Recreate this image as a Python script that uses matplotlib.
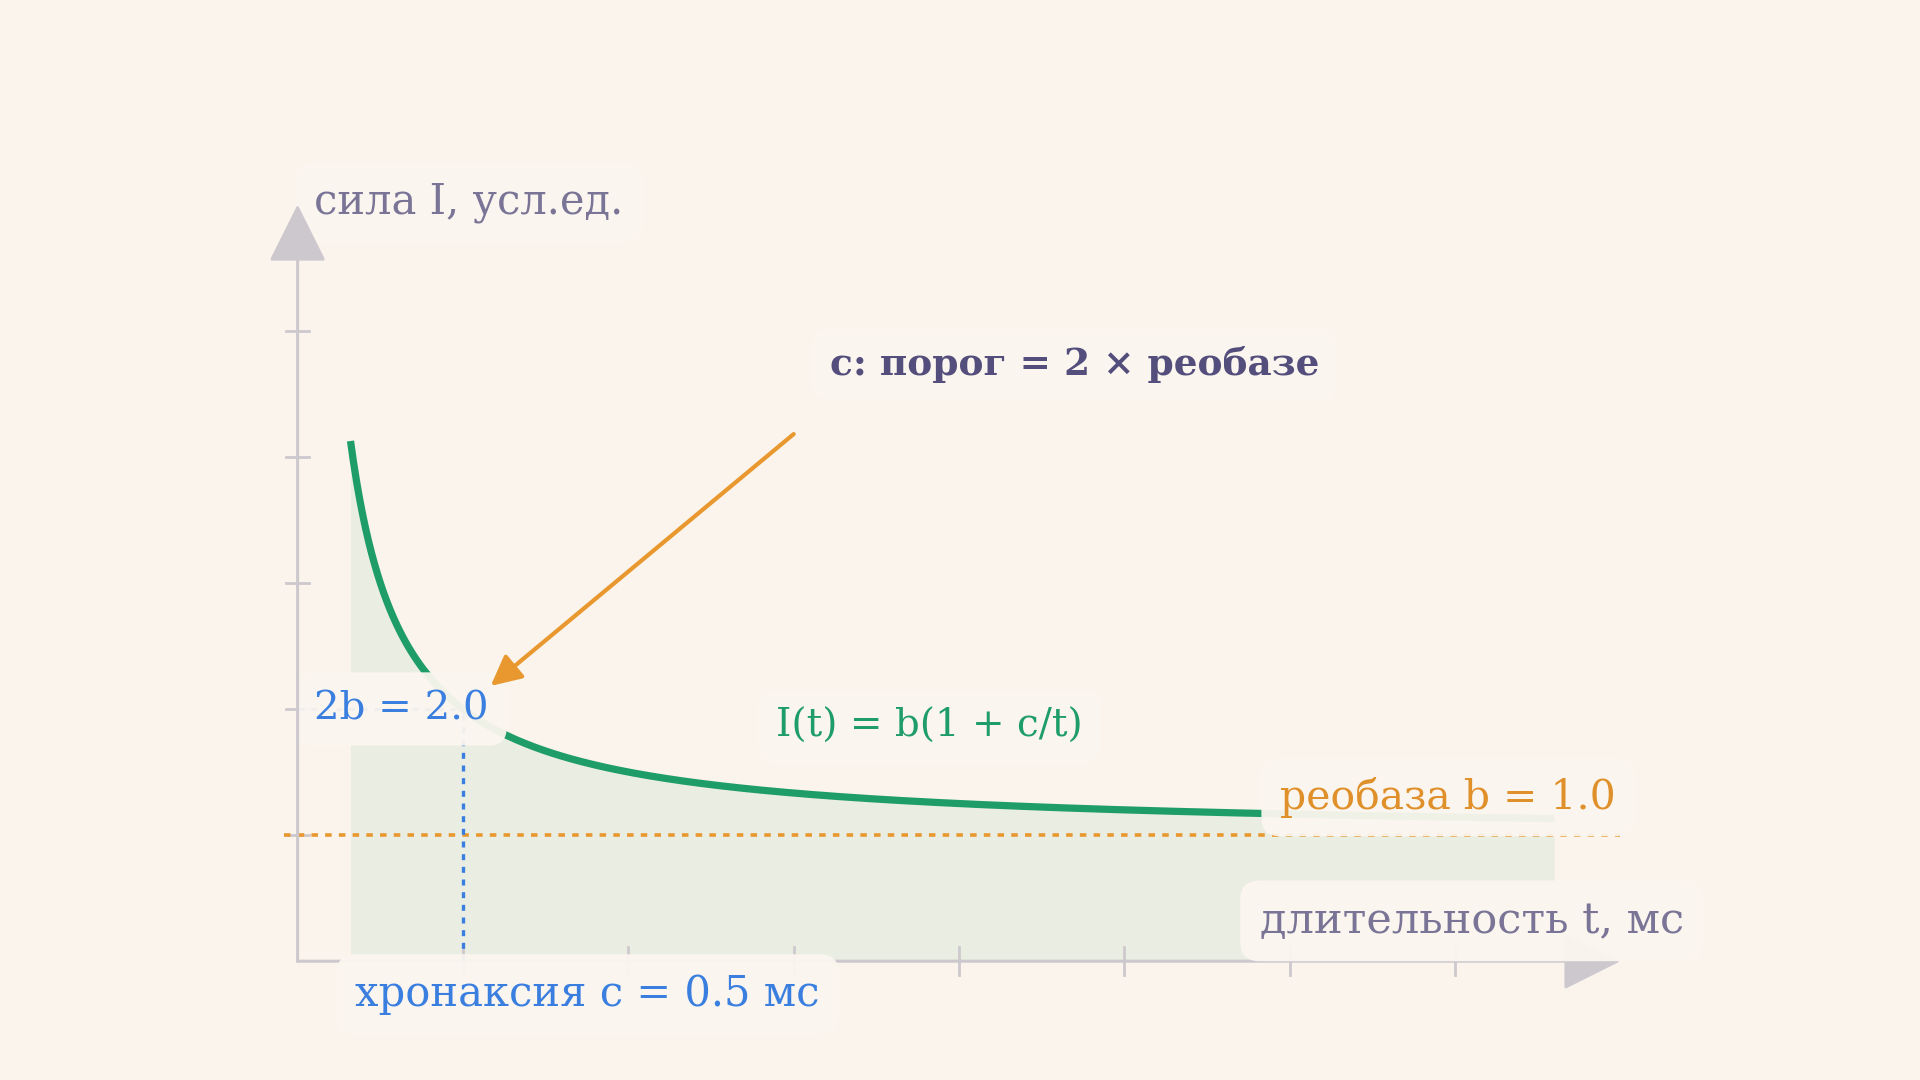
import numpy as np
import matplotlib.pyplot as plt

# strength-duration curve, I(t) = b(1 + c/t)
rheobase = 1.0
chronaxie = 0.5
t_curve = np.linspace(0.16, 3.8, 400)
i_curve = rheobase * (1 + chronaxie / t_curve)

x_ticks = [0.5, 1.0, 1.5, 2.0, 2.5, 3.0, 3.5]
y_ticks = [1, 2, 3, 4, 5]
t_max = 4.0
i_max = 6.0

bg = "#faf4ec"
grey = "#cdc8cd"
green = "#1f9d68"
orange = "#e8982f"
blue = "#3a7fe0"
purple = "#7a7496"
dark = "#544e7c"

plt.rcParams['font.family'] = ['DejaVu Serif']

fig = plt.figure(figsize=(19.2, 10.8), dpi=100)
fig.patch.set_facecolor(bg)
ax = fig.add_axes([0.155, 0.110, 0.689, 0.7006])
ax.set_xlim(0, t_max)
ax.set_ylim(0, i_max)
ax.axis('off')

# label boxes: almost the page colour, only there to hide what is beneath
box = dict(boxstyle='round,pad=0.45', fc="#fbf6ef", ec='none', alpha=0.95)

# axes with arrow heads
arrow_kw = dict(arrowstyle='-|>', mutation_scale=92, color=grey, lw=2.2,
                shrinkA=0, shrinkB=0)
ax.annotate('', xy=(t_max, 0), xytext=(0, 0), arrowprops=arrow_kw,
            annotation_clip=False, zorder=2)
ax.annotate('', xy=(0, i_max), xytext=(0, 0), arrowprops=arrow_kw,
            annotation_clip=False, zorder=7)

# ticks drawn as short marks
for xt in x_ticks:
    ax.plot([xt, xt], [-0.11, 0.11], color=grey, lw=2, clip_on=False, zorder=2)
for yt in y_ticks:
    ax.plot([-0.035, 0.035], [yt, yt], color=grey, lw=2, clip_on=False, zorder=2)

# shaded area under the curve
ax.fill_between(t_curve, 0, i_curve, color=green, alpha=0.07, lw=0, zorder=1)

# rheobase line and chronaxie guides
ax.plot([-0.04, t_max], [rheobase, rheobase], color=orange, lw=2.6,
        ls=(0, (1.8, 2.0)), clip_on=False, zorder=3)
ax.plot([chronaxie, chronaxie], [0, 2 * rheobase], color=blue, lw=2.4,
        ls=(0, (1.8, 2.0)), zorder=3)
ax.plot([0, chronaxie], [2 * rheobase, 2 * rheobase], color=blue, lw=2.4,
        ls=(0, (1.8, 2.0)), zorder=3)

# the curve itself
ax.plot(t_curve, i_curve, color=green, lw=5.2, solid_capstyle='butt', zorder=4)

# labels
ax.text(0.05, 6.02, "сила I, усл.ед.", fontsize=30, color=purple,
        ha='left', va='center', bbox=box, zorder=6)
ax.text(3.55, 0.32, "длительность t, мс", fontsize=31, color=purple,
        ha='center', va='center', bbox=box, zorder=6)
ax.text(0.05, 2.0, "2b = 2.0", fontsize=29, color=blue,
        ha='left', va='center', bbox=box, zorder=6)
ax.text(0.175, -0.26, "хронаксия c = 0.5 мс", fontsize=30, color=blue,
        ha='left', va='center', bbox=box, zorder=6)
ax.text(1.91, 1.86, "I(t) = b(1 + c/t)", fontsize=28, color=green,
        ha='center', va='center', bbox=box, zorder=6)
ax.text(2.97, 1.30, "реобаза b = 1.0", fontsize=29.5, color="#e0902a",
        ha='left', va='center', bbox=box, zorder=6)
ax.text(2.35, 4.73, "c: порог = 2 × реобазе", fontsize=27, color=dark,
        fontweight='bold', ha='center', va='center', bbox=box, zorder=6)

# pointer to the chronaxie point
ax.annotate('', xy=(chronaxie, 2 * rheobase), xytext=(1.5, 4.18),
            arrowprops=dict(arrowstyle='-|>', mutation_scale=46, color=orange,
                            lw=3.0, shrinkA=0, shrinkB=26),
            zorder=7)

fig.savefig("out.png", dpi=100, facecolor=bg)
